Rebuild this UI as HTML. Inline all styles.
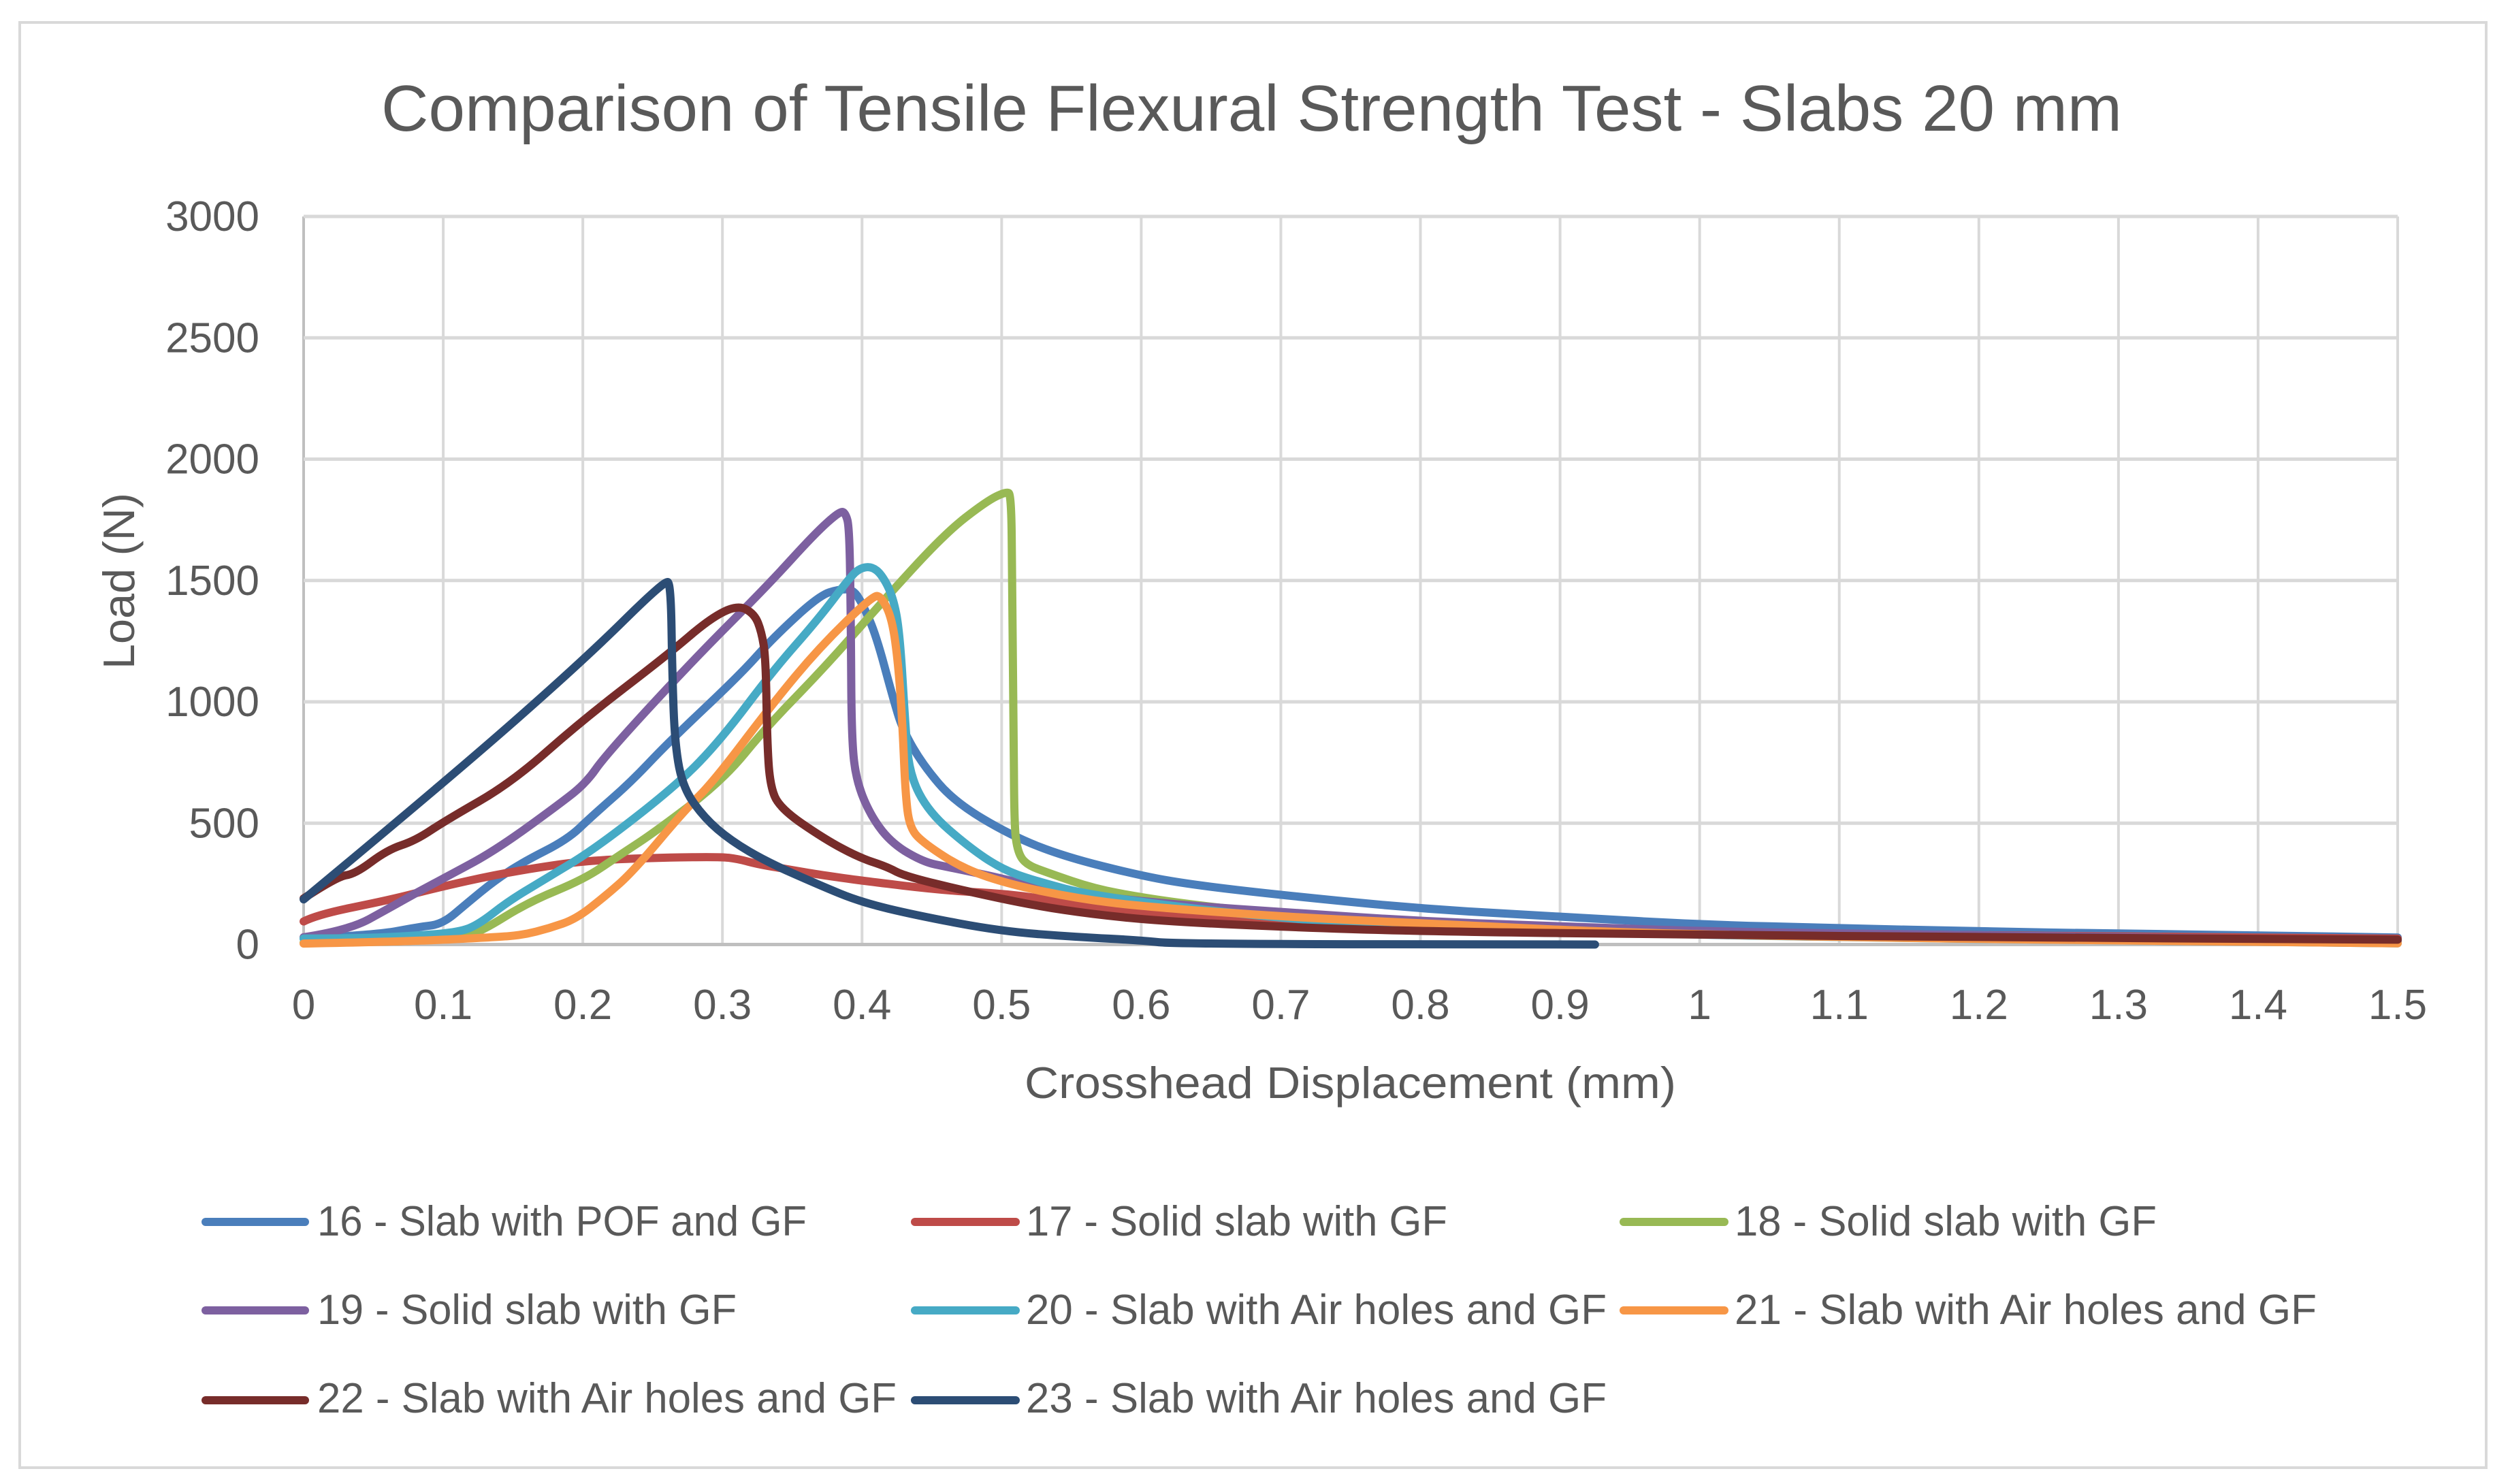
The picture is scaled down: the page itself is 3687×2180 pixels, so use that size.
<!DOCTYPE html>
<html lang="en">
<head>
<meta charset="utf-8">
<title>Comparison of Tensile Flexural Strength Test - Slabs 20 mm</title>
<style>
html,body{margin:0;padding:0;background:#fff;}
svg{display:block;}
text{font-family:"Liberation Sans",sans-serif;fill:#595959;}
</style>
</head>
<body>
<svg id="chart" xmlns="http://www.w3.org/2000/svg" width="3687" height="2180" viewBox="0 0 3687 2180">
  <rect x="29" y="33" width="3623" height="2123" fill="#fff" stroke="#d9d9d9" stroke-width="4"/>
  <text x="560" y="192" font-size="96" textLength="2557" lengthAdjust="spacingAndGlyphs">Comparison of Tensile Flexural Strength Test - Slabs 20 mm</text>
  <g id="grid"></g>
  <g id="ticks"></g>
  <text x="1505" y="1613" font-size="65" textLength="957" lengthAdjust="spacingAndGlyphs">Crosshead Displacement (mm)</text>
  <text transform="translate(197,983) rotate(-90)" x="0" y="0" font-size="65" textLength="259" lengthAdjust="spacingAndGlyphs">Load (N)</text>
  <g id="series" fill="none" stroke-width="12" stroke-linejoin="round" stroke-linecap="round"></g>
  <g stroke-width="12" stroke-linecap="round" font-size="62">
    <g><line x1="302" x2="448" y1="1795" y2="1795" stroke="#4a7ebb"/><text x="466" y="1815" stroke="none" textLength="719" lengthAdjust="spacingAndGlyphs">16 - Slab with POF and GF</text></g>
    <g><line x1="1344" x2="1492" y1="1795" y2="1795" stroke="#be4b48"/><text x="1507" y="1815" stroke="none" textLength="619" lengthAdjust="spacingAndGlyphs">17 - Solid slab with GF</text></g>
    <g><line x1="2385" x2="2533" y1="1795" y2="1795" stroke="#98b954"/><text x="2548" y="1815" stroke="none" textLength="620" lengthAdjust="spacingAndGlyphs">18 - Solid slab with GF</text></g>
    <g><line x1="302" x2="448" y1="1925" y2="1925" stroke="#7d60a0"/><text x="466" y="1945" stroke="none" textLength="616" lengthAdjust="spacingAndGlyphs">19 - Solid slab with GF</text></g>
    <g><line x1="1344" x2="1492" y1="1925" y2="1925" stroke="#46aac5"/><text x="1507" y="1945" stroke="none" textLength="853" lengthAdjust="spacingAndGlyphs">20 - Slab with Air holes and GF</text></g>
    <g><line x1="2385" x2="2533" y1="1925" y2="1925" stroke="#f79646"/><text x="2548" y="1945" stroke="none" textLength="855" lengthAdjust="spacingAndGlyphs">21 - Slab with Air holes and GF</text></g>
    <g><line x1="302" x2="448" y1="2057" y2="2057" stroke="#772c2a"/><text x="466" y="2075" stroke="none" textLength="851" lengthAdjust="spacingAndGlyphs">22 - Slab with Air holes and GF</text></g>
    <g><line x1="1344" x2="1492" y1="2057" y2="2057" stroke="#2c4d75"/><text x="1507" y="2075" stroke="none" textLength="853" lengthAdjust="spacingAndGlyphs">23 - Slab with Air holes and GF</text></g>
  </g>
</svg>
<script>
const xTicks = [0,0.1,0.2,0.3,0.4,0.5,0.6,0.7,0.8,0.9,1,1.1,1.2,1.3,1.4,1.5];
const yTicks = [0,500,1000,1500,2000,2500,3000];

const s16X = [0,0.052,0.082,0.0994,0.117,0.137,0.157,0.189,0.206,0.234,0.261,0.313,0.336,0.369,0.384,0.394,0.401,0.41,0.422,0.429,0.444,0.466,0.507,0.545,0.6,0.637,0.7,0.8,0.9,1,1.1,1.2,1.3,1.4,1.5];
const s16Y = [25,39,72,84,170,264,339,433,526,667,831,1114,1262,1437,1465,1462,1396,1275,1020,885,737,589,448,362,283,246,204,147,115,82,68,54,45,38,29];

const s17X = [0,0.01,0.062,0.097,0.137,0.171,0.201,0.241,0.298,0.311,0.326,0.351,0.367,0.398,0.46,0.507,0.554,0.6,0.7,0.8,1,1.5];
const s17Y = [95,124,184,236,287,320,344,356,362,353,330,306,290,264,222,208,166,133,100,75,48,24];

const s18X = [0,0.077,0.112,0.127,0.161,0.201,0.226,0.251,0.3,0.332,0.373,0.412,0.459,0.489,0.503,0.507,0.5075,0.5086,0.509,0.511,0.517,0.535,0.566,0.6,0.641,0.7,0.8,1,1.5];
const s18Y = [7,11,30,53,175,269,367,461,675,899,1141,1396,1692,1826,1866,1856,1450,912,508,390,330,292,231,194,161,125,85,40,10];

const s19X = [0,0.032,0.062,0.082,0.102,0.137,0.184,0.2025,0.216,0.276,0.332,0.366,0.384,0.388,0.391,0.392,0.3925,0.396,0.407,0.422,0.444,0.461,0.492,0.523,0.566,0.632,0.7,0.8,0.9,1,1.1,1.5];
const s19Y = [30,58,152,217,278,386,582,667,778,1154,1477,1692,1785,1780,1719,1316,845,670,522,414,340,320,283,241,199,161,134,96,75,55,45,15];

const s20X = [0,0.04,0.077,0.109,0.124,0.147,0.174,0.209,0.268,0.299,0.336,0.369,0.392,0.399,0.407,0.414,0.422,0.427,0.431,0.434,0.448,0.476,0.5,0.523,0.566,0.7,0.8,1,1.5];
const s20Y = [25,25,35,49,77,180,273,395,660,845,1127,1343,1518,1552,1557,1525,1437,1289,905,700,544,404,311,264,199,105,78,35,5];

const s21X = [0,0.077,0.137,0.157,0.176,0.195,0.216,0.236,0.273,0.293,0.336,0.369,0.408,0.414,0.4215,0.426,0.429,0.431,0.434,0.445,0.473,0.507,0.554,0.6,0.7,0.8,1,1.5];
const s21Y = [4,13,30,39,67,105,199,301,554,667,993,1221,1440,1432,1343,1154,905,630,479,414,311,246,190,157,115,87,35,5];

const s22X = [0,0.024,0.037,0.06,0.08,0.102,0.149,0.2,0.261,0.291,0.311,0.323,0.328,0.331,0.332,0.334,0.341,0.373,0.398,0.418,0.43,0.473,0.523,0.566,0.616,0.7,0.8,1,1.2,1.5];
const s22Y = [190,280,291,390,428,512,667,926,1195,1343,1400,1362,1289,1181,845,657,562,435,358,320,283,222,161,124,96,73,54,40,30,20];

const s23X = [0,0.1,0.2,0.259,0.263,0.264,0.266,0.272,0.287,0.306,0.332,0.369,0.399,0.439,0.5,0.554,0.6,0.625,0.925];
const s23Y = [186,663,1168,1503,1483,1127,818,643,522,428,340,246,175,120,54,31,17,2,0];

const seriesList = [
  {id:'16', xs:s16X, ys:s16Y, color:'#4a7ebb'},
  {id:'17', xs:s17X, ys:s17Y, color:'#be4b48'},
  {id:'18', xs:s18X, ys:s18Y, color:'#98b954'},
  {id:'19', xs:s19X, ys:s19Y, color:'#7d60a0'},
  {id:'20', xs:s20X, ys:s20Y, color:'#46aac5'},
  {id:'21', xs:s21X, ys:s21Y, color:'#f79646'},
  {id:'22', xs:s22X, ys:s22Y, color:'#772c2a'},
  {id:'23', xs:s23X, ys:s23Y, color:'#2c4d75'}
];

const NS = 'http://www.w3.org/2000/svg';
const plotLeft = 446, plotRight = 3522, plotTop = 318, plotBottom = 1387.5;
const xMax = 1.5, yMax = 3000;
function xScale(v){ return plotLeft + (v / xMax) * (plotRight - plotLeft); }
function yScale(v){ return plotBottom - (v / yMax) * (plotBottom - plotTop); }

const grid = document.getElementById('grid');
xTicks.forEach(function(t){
  const l = document.createElementNS(NS,'line');
  
  
  l.setAttribute('x1', xScale(t));
  l.setAttribute('x2', xScale(t));
  l.setAttribute('y1', plotTop);
  l.setAttribute('y2', plotBottom);
  l.setAttribute('stroke', t === 0 ? '#bfbfbf' : '#d9d9d9');
  l.setAttribute('stroke-width', '4');
  grid.appendChild(l);
});
yTicks.forEach(function(t){
  const l = document.createElementNS(NS,'line');
  
  
  l.setAttribute('x1', plotLeft);
  l.setAttribute('x2', plotRight);
  l.setAttribute('y1', yScale(t));
  l.setAttribute('y2', yScale(t));
  l.setAttribute('stroke', t === 0 ? '#bfbfbf' : '#d9d9d9');
  l.setAttribute('stroke-width', '5');
  grid.appendChild(l);
});

const ticks = document.getElementById('ticks');
xTicks.forEach(function(t){
  const e = document.createElementNS(NS,'text');
  
  
  e.setAttribute('x', xScale(t));
  e.setAttribute('y', 1497);
  e.setAttribute('font-size', '62');
  e.setAttribute('text-anchor', 'middle');
  e.textContent = String(t);
  ticks.appendChild(e);
});
yTicks.forEach(function(t){
  const e = document.createElementNS(NS,'text');
  
  
  e.setAttribute('x', 381);
  e.setAttribute('y', yScale(t) + 21);
  e.setAttribute('font-size', '62');
  e.setAttribute('text-anchor', 'end');
  e.textContent = String(t);
  ticks.appendChild(e);
});

function smoothPath(pts){
  let d = 'M' + pts[0][0].toFixed(1) + ' ' + pts[0][1].toFixed(1);
  for (let i = 1; i < pts.length - 1; i++) {
    const mx = (pts[i][0] + pts[i + 1][0]) / 2;
    const my = (pts[i][1] + pts[i + 1][1]) / 2;
    d += 'Q' + pts[i][0].toFixed(1) + ' ' + pts[i][1].toFixed(1) + ' ' + mx.toFixed(1) + ' ' + my.toFixed(1);
  }
  const last = pts[pts.length - 1];
  d += 'L' + last[0].toFixed(1) + ' ' + last[1].toFixed(1);
  return d;
}

const seriesGroup = document.getElementById('series');
seriesList.forEach(function(s){
  const p = document.createElementNS(NS,'path');
  
  
  p.setAttribute('stroke', s.color);
  p.setAttribute('d', smoothPath(s.xs.map(function(x,i){ return [xScale(x), yScale(s.ys[i])]; })));
  seriesGroup.appendChild(p);
});
</script>
</body>
</html>
